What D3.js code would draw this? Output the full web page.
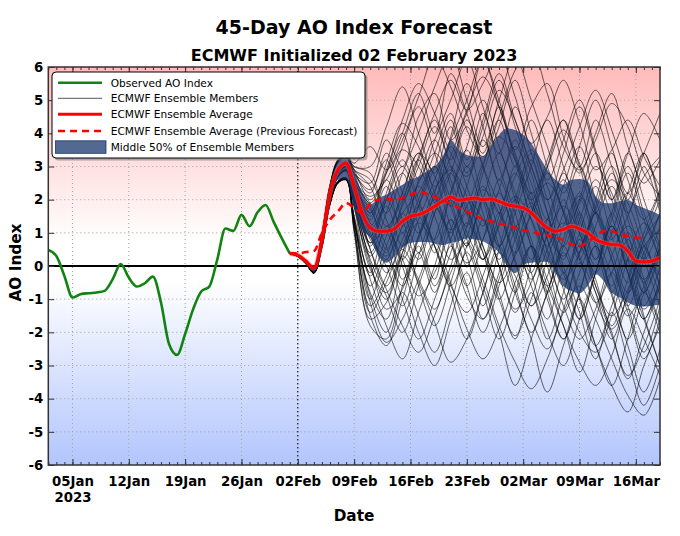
<!DOCTYPE html>
<html><head><meta charset="utf-8">
<script src="https://cdn.jsdelivr.net/npm/d3@7"></script>
<style>body{margin:0;background:#fff}svg{display:block;font-family:"DejaVu Sans",sans-serif}</style>
</head><body><svg id="c" width="680" height="536"></svg>
<script>
// ---------- data ----------
const observedStart = "2023-01-02";
const observedAO = [0.48,0.3,-0.3,-0.95,-0.85,-0.82,-0.8,-0.75,-0.4,0.06,-0.35,-0.62,-0.52,-0.32,-1.1,-2.35,-2.68,-2.05,-1.3,-0.77,-0.62,0.2,1.13,1.06,1.54,1.2,1.62,1.84,1.33,0.84,0.38];

const forecastStart = "2023-02-01";
const ensembleAverage = [0.38,0.33,0.15,-0.06,0.8,2.2,2.9,3.1,2.4,1.6,1.15,1.05,1.05,1.12,1.35,1.5,1.55,1.65,1.8,1.95,2.08,1.98,2.02,2.05,2.0,2.02,1.95,1.85,
  1.8,1.75,1.6,1.35,1.15,1.05,1.1,1.2,1.12,1.0,0.8,0.7,0.65,0.63,0.45,0.15,0.12,0.15,0.25];
const previousAverage = [0.38,0.38,0.42,0.45,1.0,1.4,1.65,1.9,1.75,1.6,1.88,2.0,2.02,2.0,2.05,2.15,2.22,2.18,2.08,1.98,1.88,1.75,1.64,1.52,1.42,1.35,1.28,1.22,
  1.15,1.08,1.02,0.97,0.93,0.86,0.78,0.65,0.6,0.72,0.9,1.05,1.05,0.95,0.9,0.86,0.83];
const middle50Upper = [0.4,0.36,0.18,0.0,0.95,2.4,3.15,3.3,2.85,2.2,1.85,2.05,2.15,2.3,2.45,2.6,2.7,2.85,3.0,3.3,3.8,3.5,3.35,3.3,3.3,3.6,3.95,4.15,
  4.1,3.95,3.7,3.3,2.9,2.6,2.45,2.6,2.62,2.55,2.1,1.9,1.89,1.95,1.99,1.85,1.75,1.65,1.54];
const middle50Lower = [0.36,0.28,0.08,-0.18,0.65,1.95,2.6,2.65,1.75,1.1,0.85,0.3,0.1,0.28,0.55,0.7,0.72,0.72,0.68,0.63,0.7,0.75,0.83,0.8,0.75,0.6,0.4,0.0,
  -0.22,0.05,0.1,0.12,0.13,-0.2,-0.6,-0.75,-0.82,-0.6,-0.25,-0.45,-0.8,-0.95,-1.1,-1.2,-1.22,-1.2,-1.17];

const memberDates = ["2023-02-01","2023-02-02","2023-02-03","2023-02-04","2023-02-05","2023-02-06","2023-02-07","2023-02-08","2023-02-09",
  "2023-02-11","2023-02-13","2023-02-15","2023-02-17","2023-02-19","2023-02-21","2023-02-23","2023-02-25","2023-02-27",
  "2023-03-01","2023-03-03","2023-03-05","2023-03-07","2023-03-09","2023-03-11","2023-03-13","2023-03-15","2023-03-17","2023-03-19"];
const members = [
 [0.38,0.34,0.16,-0.05,0.95,2.4,3.15,3.3,2.8, 2.5,3.8,3.0,4.5,5.2,3.8,4.6,6.2,5.0,3.5,4.8,5.5,3.9,2.8,4.0,5.2,3.6,2.5,3.2],
 [0.38,0.32,0.12,-0.1,0.8,2.2,2.9,3.1,2.5, 1.8,0.5,1.9,3.2,2.1,3.9,5.5,4.2,2.6,3.8,2.2,1.0,2.4,3.6,2.0,0.8,2.2,3.4,1.8],
 [0.38,0.29,0.08,-0.2,0.6,1.9,2.55,2.6,1.3, -0.8,-1.6,0.2,1.5,0.4,2.2,3.5,2.0,0.6,1.8,3.2,1.6,-0.2,1.0,2.4,0.9,-0.5,0.8,2.0],
 [0.38,0.31,0.11,-0.12,0.75,2.1,2.8,3.0,2.1, 0.4,1.6,2.8,1.2,-0.4,1.4,0.3,-1.2,0.5,2.0,0.6,-1.0,-2.2,-0.8,0.6,-0.9,-2.4,-3.8,-2.5],
 [0.38,0.33,0.13,-0.08,0.85,2.25,2.95,3.15,2.5, 1.4,2.4,1.0,2.6,3.8,2.4,1.2,2.8,4.2,5.6,4.0,2.6,3.8,5.0,3.5,2.0,3.4,4.6,3.8],
 [0.38,0.28,0.06,-0.22,0.55,1.85,2.5,2.6,1.2, -1.2,-0.3,1.0,-0.6,-1.8,-0.5,1.2,2.4,1.0,-0.6,-2.0,-0.8,0.6,-0.9,-2.4,-1.2,0.2,-1.5,-3.0],
 [0.38,0.3,0.1,-0.15,0.7,2.0,2.7,2.9,2.0, 0.8,0.0,-1.2,0.3,1.8,3.0,1.6,0.2,1.5,2.8,1.4,0.0,-1.4,-0.2,1.2,2.4,1.0,-0.5,0.6],
 [0.38,0.35,0.17,-0.04,1.0,2.45,3.2,3.35,2.9, 2.0,2.8,4.0,5.2,4.0,5.8,4.6,3.4,4.8,3.2,2.0,3.2,4.4,3.0,1.6,2.8,1.4,0.2,1.2],
 [0.38,0.29,0.07,-0.21,0.58,1.88,2.52,2.62,1.5, -0.2,1.2,0.0,-1.5,-2.6,-1.2,0.4,-0.8,-2.2,-0.8,0.6,-0.6,-1.8,-3.2,-1.6,-0.2,-1.4,-2.8,-1.6],
 [0.38,0.31,0.11,-0.12,0.76,2.12,2.82,3.02,2.3, 1.0,0.2,1.6,2.2,3.4,4.6,3.2,4.6,3.0,1.6,0.2,1.4,2.6,1.2,-0.2,1.0,2.2,0.8,-0.6],
 [0.38,0.3,0.09,-0.16,0.68,1.98,2.68,2.85,1.9, 0.2,-0.9,-2.0,-0.6,0.8,2.0,0.8,-0.6,-2.0,-3.6,-2.2,-0.8,0.4,-1.0,-2.4,-3.6,-2.2,-0.8,-1.8],
 [0.38,0.32,0.12,-0.1,0.82,2.22,2.92,3.12,2.6, 1.6,2.6,1.4,0.2,1.6,2.8,4.2,3.0,1.8,0.4,1.6,2.8,1.6,0.4,1.6,0.4,-0.8,0.4,1.6],
 [0.38,0.34,0.15,-0.06,0.98,2.42,3.18,3.32,3.0, 2.8,1.6,2.8,4.0,5.4,6.4,5.0,3.6,5.0,6.3,5.0,3.6,2.2,3.6,5.0,3.6,2.2,3.4,4.6],
 [0.38,0.28,0.07,-0.2,0.62,1.92,2.56,2.66,1.1, -1.5,-2.4,-1.0,0.4,-0.8,0.6,-0.6,0.8,2.2,0.8,-0.6,-2.0,-3.0,-1.6,-0.2,1.2,-0.2,-1.6,-0.4],
 [0.38,0.31,0.1,-0.13,0.74,2.08,2.78,2.98,2.2, 0.6,2.0,3.2,2.0,0.8,2.2,3.6,5.0,3.6,2.2,0.8,-0.6,0.8,2.2,0.8,-0.6,0.8,-0.6,-2.0],
 [0.38,0.3,0.1,-0.14,0.72,2.02,2.72,2.92,2.2, 1.2,-0.2,0.8,2.0,3.0,1.8,3.0,1.6,0.2,1.6,3.0,4.4,3.0,1.6,0.2,1.6,0.2,-1.2,0.0],
 [0.38,0.34,0.16,-0.05,0.96,2.4,3.14,3.28,3.0, 3.0,4.2,5.4,4.0,2.8,4.2,2.8,4.2,5.6,4.2,2.8,1.4,2.8,1.4,0.0,1.4,2.8,1.4,0.2],
 [0.38,0.3,0.1,-0.15,0.7,2.0,2.7,2.88,1.8, 0.0,-1.0,0.4,1.8,0.6,-0.8,-2.2,-0.8,0.6,-0.8,-2.2,-3.8,-2.4,-1.0,-2.4,-3.6,-4.4,-3.0,-1.8],
 [0.38,0.32,0.12,-0.1,0.8,2.2,2.9,3.08,2.5, 1.9,1.0,2.2,3.4,2.2,1.0,2.4,3.8,2.4,1.0,-0.4,1.0,2.4,1.0,-0.4,-1.8,-0.4,1.0,2.2],
 [0.38,0.29,0.08,-0.19,0.6,1.9,2.55,2.65,1.5, -0.6,0.6,1.8,3.0,4.2,3.0,1.8,0.4,-1.0,0.4,1.8,0.4,-1.0,0.4,1.8,3.0,1.6,0.2,-1.2],
 [0.38,0.34,0.16,-0.05,0.94,2.38,3.12,3.26,2.8, 2.2,3.4,2.2,1.0,2.2,3.6,2.4,1.2,2.6,1.2,-0.2,1.2,-0.2,-1.6,-0.2,1.2,-0.2,-1.6,-3.0],
 [0.38,0.31,0.11,-0.12,0.76,2.1,2.8,3.0,2.2, 0.9,1.8,0.6,1.8,3.0,1.8,0.6,2.0,0.6,2.0,3.4,2.0,0.6,2.0,3.4,2.0,0.6,-0.8,0.4],
 [0.38,0.28,0.07,-0.21,0.58,1.88,2.52,2.6,1.3, -0.4,-1.8,-2.8,-1.4,0.0,1.4,0.0,1.4,0.0,-1.4,0.0,1.4,0.0,-1.4,-2.8,-1.4,-2.8,-4.2,-3.0],
 [0.38,0.32,0.12,-0.1,0.8,2.2,2.9,3.1,2.5, 1.5,2.8,4.0,2.6,3.8,5.0,6.2,4.8,3.4,4.8,3.4,2.0,3.4,4.8,3.4,2.0,3.4,2.0,0.6],
 [0.38,0.3,0.1,-0.15,0.7,2.0,2.7,2.9,1.9, 0.3,1.0,-0.4,0.8,2.0,0.8,-0.6,-2.0,-0.6,0.8,2.2,0.8,-0.6,0.8,-0.6,-2.0,-3.4,-2.0,-0.6],
 [0.38,0.34,0.15,-0.06,0.95,2.4,3.15,3.3,2.9, 2.6,1.4,0.2,1.4,2.6,3.8,5.0,6.2,4.8,3.4,2.0,0.6,2.0,0.6,2.0,3.4,2.0,3.4,2.0],
 [0.38,0.29,0.08,-0.2,0.6,1.9,2.55,2.65,1.4, -1.0,0.2,-1.0,-2.2,-1.0,0.4,1.6,0.2,1.6,0.2,-1.2,0.2,1.6,3.0,1.6,0.2,-1.2,0.2,1.6],
 [0.38,0.31,0.11,-0.12,0.75,2.1,2.8,3.0,2.3, 1.3,0.4,1.6,0.4,1.6,2.8,1.6,3.0,4.4,3.0,4.4,3.0,1.6,0.2,1.6,0.2,-1.2,-2.6,-1.2],
 [0.38,0.32,0.12,-0.1,0.8,2.2,2.9,3.1,2.4, 0.7,2.2,3.6,4.8,3.4,2.0,0.6,2.0,0.6,-0.8,0.6,-0.8,0.6,2.0,0.6,-0.8,0.6,-0.8,0.6],
 [0.38,0.3,0.1,-0.15,0.7,2.0,2.7,2.9,2.3, 1.7,0.6,-0.6,0.6,-0.6,0.8,2.0,0.6,-0.8,-2.2,-0.8,-2.2,-0.8,0.6,-0.8,-2.2,-0.8,0.6,-0.6],
 [0.38,0.34,0.16,-0.05,0.95,2.4,3.15,3.3,2.8, 2.3,3.2,2.0,3.2,4.4,3.2,4.4,3.0,1.6,3.0,1.6,3.0,4.4,3.0,4.4,3.0,1.6,3.0,1.6],
 [0.38,0.29,0.08,-0.2,0.6,1.9,2.55,2.65,1.4, -0.9,-2.0,-0.8,-2.0,-3.0,-1.6,-0.2,-1.6,-0.2,1.2,-0.2,-1.6,-0.2,-1.6,-0.2,1.2,-0.2,-1.6,-0.4],
 [0.38,0.31,0.11,-0.12,0.75,2.1,2.8,3.0,2.2, 1.1,2.0,3.0,1.8,0.6,-0.6,0.6,2.0,3.4,2.0,0.6,-0.8,-2.2,-0.8,0.6,-0.8,-2.2,-0.8,0.6],
 [0.38,0.32,0.12,-0.1,0.8,2.2,2.9,3.1,2.4, 0.5,-0.6,0.6,1.8,3.0,4.4,3.0,4.4,5.8,4.4,3.0,1.6,0.2,1.6,0.2,1.6,3.0,1.6,0.2],
 [0.38,0.28,0.06,-0.22,0.56,1.86,2.5,2.58,1.0, -1.8,-2.2,-0.6,0.9,1.8,0.7,-0.9,-1.6,-0.4,1.1,1.9,0.8,-0.7,-2.0,-2.6,-1.5,0.2,1.3,0.5],
 [0.38,0.35,0.17,-0.03,1.0,2.46,3.22,3.36,3.1, 3.6,2.9,3.8,5.1,6.3,5.4,4.1,3.3,4.5,5.9,6.5,5.2,3.6,2.9,3.8,4.9,4.2,2.8,2.1],
 [0.38,0.31,0.1,-0.13,0.74,2.1,2.78,2.96,2.0, 0.1,-1.3,-0.7,0.9,2.3,2.9,2.1,0.6,-0.5,0.3,1.6,2.5,1.7,0.2,-1.1,-1.9,-0.9,0.8,1.5],
 [0.38,0.33,0.13,-0.09,0.84,2.24,2.94,3.14,2.6, 2.1,2.6,3.5,3.0,1.9,1.1,1.8,3.1,3.9,3.2,1.8,0.5,-0.4,0.4,1.7,2.6,1.9,0.6,-0.3],
 [0.38,0.28,0.07,-0.21,0.57,1.87,2.5,2.6,1.1, -1.6,-1.1,0.3,-0.5,-1.7,-2.9,-2.2,-0.8,0.4,-0.3,-1.6,-2.5,-1.3,0.1,-0.8,-2.1,-3.3,-2.4,-1.0],
 [0.38,0.3,0.09,-0.16,0.69,1.99,2.69,2.87,1.8, -0.3,0.9,2.2,3.4,2.7,1.2,0.1,0.8,2.3,3.6,2.5,1.0,0.3,1.4,2.6,1.5,0.0,-1.3,-0.6],
 [0.38,0.34,0.15,-0.06,0.96,2.41,3.16,3.3,2.9, 2.4,1.2,2.0,3.3,4.6,5.6,4.7,5.5,6.4,5.1,3.7,4.5,5.6,4.3,2.9,3.5,4.4,3.3,2.4],
 [0.38,0.31,0.11,-0.11,0.77,2.12,2.82,3.02,2.2, 0.7,1.1,0.2,-0.9,-0.2,1.1,2.0,1.4,0.0,-1.3,-0.5,0.9,1.8,1.0,-0.6,-1.5,-0.7,0.6,1.1],
 [0.38,0.29,0.08,-0.2,0.6,1.9,2.54,2.62,1.4, -1.1,-2.3,-1.6,-0.4,0.7,-0.5,-1.9,-2.8,-1.9,-0.5,0.6,-0.4,-1.8,-2.9,-3.6,-2.7,-1.3,-2.2,-3.3],
 [0.38,0.32,0.12,-0.1,0.8,2.2,2.9,3.1,2.5, 1.6,3.1,4.3,3.6,2.4,3.3,4.7,5.7,4.8,3.3,2.2,3.0,4.1,3.1,1.7,0.6,1.5,2.7,3.3],
 [0.38,0.3,0.1,-0.15,0.7,2.0,2.7,2.9,1.9, -0.1,-0.8,0.4,1.3,0.6,-0.6,-1.4,-0.3,1.2,2.1,1.4,0.2,-1.2,-2.2,-1.3,0.3,1.2,0.4,-0.9],
 [0.38,0.31,0.11,-0.12,0.75,2.1,2.8,3.0,2.3, 1.2,2.0,1.2,2.5,3.4,2.6,1.0,0.2,1.3,2.7,3.5,2.4,1.1,1.9,3.0,2.2,0.7,-0.4,0.5],
 [0.38,0.28,0.07,-0.21,0.58,1.88,2.52,2.61,1.2, -1.4,-0.5,0.5,-0.4,-1.3,0.0,1.3,0.4,-1.0,-2.1,-1.0,0.5,1.3,0.3,-1.1,-0.2,1.0,-0.4,-1.7],
 [0.38,0.34,0.16,-0.05,0.95,2.4,3.15,3.3,2.7, 1.9,2.9,4.4,5.5,4.6,3.4,2.7,3.9,5.3,4.4,3.0,2.0,2.9,4.2,5.3,4.1,2.6,1.4,2.3],
 [0.38,0.32,0.12,-0.1,0.81,2.21,2.91,3.1,2.4, 0.9,0.3,1.2,2.4,1.5,0.2,0.9,2.3,1.6,0.1,-1.2,-0.3,1.2,2.1,1.0,-0.3,-1.5,-0.6,0.8],
 [0.38,0.3,0.1,-0.14,0.71,2.01,2.71,2.9,2.1, 0.5,-0.7,-1.8,-2.6,-1.5,-0.2,0.7,-0.4,-1.8,-2.9,-3.7,-2.8,-1.4,-0.6,-1.6,-2.8,-3.9,-4.5,-3.4]
];

const xTickDates = ["2023-01-05","2023-01-12","2023-01-19","2023-01-26","2023-02-02","2023-02-09","2023-02-16","2023-02-23","2023-03-02","2023-03-09","2023-03-16"];
const xTickLabels = ["05Jan","12Jan","19Jan","26Jan","02Feb","09Feb","16Feb","23Feb","02Mar","09Mar","16Mar"];
const yTicks = [-6,-5,-4,-3,-2,-1,0,1,2,3,4,5,6];
const initDate = "2023-02-02";
const xDomain = ["2023-01-02","2023-03-19"];
const legendLabels = ["Observed AO Index","ECMWF Ensemble Members","ECMWF Ensemble Average","ECMWF Ensemble Average (Previous Forecast)","Middle 50% of Ensemble Members"];

// ---------- setup ----------
const parse = d3.utcParse("%Y-%m-%d");
const seq = (start, n) => d3.range(n).map(i => d3.utcDay.offset(parse(start), i));
const L = 48.3, R = 660, T = 67, B = 465;
const svg = d3.select("#c");
const x = d3.scaleUtc().domain(xDomain.map(parse)).range([L, R]);
const y = d3.scaleLinear().domain([-6, 6]).range([B, T]);

const defs = svg.append("defs");
const grad = defs.append("linearGradient").attr("id","bg").attr("x1",0).attr("y1",0).attr("x2",0).attr("y2",1);
[[0,"#ffbaba"],[0.44,"#ffffff"],[0.54,"#ffffff"],[1,"#b2c5fd"]].forEach(([o,c]) =>
  grad.append("stop").attr("offset", o).attr("stop-color", c));
defs.append("clipPath").attr("id","clip").append("rect").attr("x",L).attr("y",T).attr("width",R-L).attr("height",B-T);

svg.append("rect").attr("x",L).attr("y",T).attr("width",R-L).attr("height",B-T).attr("fill","url(#bg)");

// grid
const grid = svg.append("g").attr("stroke","#a0a0a0").attr("stroke-width",1).attr("stroke-dasharray","1,3");
grid.selectAll(".gy").data(yTicks.filter(v => v > -6 && v < 6)).join("line")
  .attr("x1",L).attr("x2",R).attr("y1",d=>y(d)).attr("y2",d=>y(d));
grid.selectAll(".gx").data(xTickDates).join("line")
  .attr("x1",d=>x(parse(d))).attr("x2",d=>x(parse(d))).attr("y1",T).attr("y2",B);

const plot = svg.append("g").attr("clip-path","url(#clip)");

// members
const mDates = memberDates.map(parse);
const memberLine = d3.line().x((d,i)=>x(mDates[i])).y(d=>y(d)).curve(d3.curveCatmullRom.alpha(0.5));
plot.append("g").selectAll("path").data(members).join("path")
  .attr("d", memberLine).attr("fill","none").attr("stroke","#000").attr("stroke-width",0.9).attr("stroke-opacity",0.66);

// band
const fDates = seq(forecastStart, ensembleAverage.length);
const band = d3.area().x((d,i)=>x(fDates[i])).y0((d,i)=>y(middle50Lower[i])).y1(d=>y(d)).curve(d3.curveMonotoneX);
plot.append("path").attr("d", band(middle50Upper)).attr("fill","rgb(25,55,110)").attr("fill-opacity",0.75);

// zero line
plot.append("line").attr("x1",L).attr("x2",R).attr("y1",y(0)).attr("y2",y(0)).attr("stroke","#000").attr("stroke-width",2);
// init line
plot.append("line").attr("x1",x(parse(initDate))).attr("x2",x(parse(initDate))).attr("y1",T).attr("y2",B)
  .attr("stroke","#000").attr("stroke-width",1).attr("stroke-dasharray","1.5,2.5");

// observed
const oDates = seq(observedStart, observedAO.length);
plot.append("path").attr("d", d3.line().x((d,i)=>x(oDates[i])).y(d=>y(d)).curve(d3.curveMonotoneX)(observedAO))
  .attr("fill","none").attr("stroke","#118311").attr("stroke-width",2.6).attr("stroke-linejoin","round");

// average + previous
const fLine = d3.line().x((d,i)=>x(fDates[i])).y(d=>y(d)).curve(d3.curveMonotoneX);
plot.append("path").attr("d", fLine(ensembleAverage)).attr("fill","none").attr("stroke","#ff6060").attr("stroke-opacity",0.45).attr("stroke-width",5);
plot.append("path").attr("d", fLine(ensembleAverage)).attr("fill","none").attr("stroke","#f00").attr("stroke-width",3);
plot.append("path").attr("d", fLine(previousAverage)).attr("fill","none").attr("stroke","#f00").attr("stroke-width",2.6).attr("stroke-dasharray","7,5");

// frame
svg.append("rect").attr("x",L).attr("y",T).attr("width",R-L).attr("height",B-T).attr("fill","none").attr("stroke","#333").attr("stroke-width",1.5);

// axes
const tickFont = g => g.selectAll("text").attr("font-family","DejaVu Sans").attr("font-weight","bold").attr("font-size","13.3px").attr("fill","#000");
const majors = xTickDates.map(parse);
const xb = svg.append("g").attr("transform",`translate(0,${B})`)
  .call(d3.axisBottom(x).tickValues(majors).tickSize(-6).tickPadding(12).tickFormat((d,i)=>xTickLabels[i]));
xb.select(".domain").remove(); tickFont(xb);
xb.selectAll(".tick line").attr("stroke","#333");
const firstText = xb.select(".tick text");
firstText.text(null);
firstText.append("tspan").attr("x",0).text(xTickLabels[0]);
firstText.append("tspan").attr("x",0).attr("dy","1.15em").text("2023");

const dayTicks = d3.utcDay.range(parse(xDomain[0]), d3.utcDay.offset(parse(xDomain[1]),1));
const xMinB = svg.append("g").attr("transform",`translate(0,${B})`).call(d3.axisBottom(x).tickValues(dayTicks).tickSize(-3).tickFormat(""));
xMinB.select(".domain").remove(); xMinB.selectAll("line").attr("stroke","#333");
const xMinT = svg.append("g").attr("transform",`translate(0,${T})`).call(d3.axisTop(x).tickValues(dayTicks).tickSize(-3).tickFormat(""));
xMinT.select(".domain").remove(); xMinT.selectAll("line").attr("stroke","#333");
const xMajT = svg.append("g").attr("transform",`translate(0,${T})`).call(d3.axisTop(x).tickValues(majors).tickSize(-6).tickFormat(""));
xMajT.select(".domain").remove(); xMajT.selectAll("line").attr("stroke","#333");

const yl = svg.append("g").attr("transform",`translate(${L},0)`).call(d3.axisLeft(y).tickValues(yTicks).tickSize(-6).tickPadding(5).tickFormat(d3.format("d")));
yl.select(".domain").remove(); tickFont(yl); yl.selectAll("line").attr("stroke","#333");
yl.selectAll("text").text(d => d < 0 ? "-" + Math.abs(d) : d);
const yr = svg.append("g").attr("transform",`translate(${R},0)`).call(d3.axisRight(y).tickValues(yTicks).tickSize(-6).tickFormat(""));
yr.select(".domain").remove(); yr.selectAll("line").attr("stroke","#333");

// titles
const bold = s => s.attr("font-family","DejaVu Sans").attr("font-weight","bold").attr("fill","#000").attr("text-anchor","middle");
svg.append("text").attr("x",354).attr("y",34).attr("font-size","19px").text("45-Day AO Index Forecast").call(bold);
svg.append("text").attr("x",354).attr("y",61).attr("font-size","16px").text("ECMWF Initialized 02 February 2023").call(bold);
svg.append("text").attr("x",354).attr("y",521).attr("font-size","15.3px").text("Date").call(bold);
svg.append("text").attr("transform","translate(20.5,262.5) rotate(-90)").attr("font-size","15.3px").text("AO Index").call(bold);

// legend
const lg = svg.append("g").attr("transform","translate(52,72)");
lg.append("rect").attr("x",2.5).attr("y",2.5).attr("width",313).attr("height",86).attr("rx",4).attr("fill","#7a7a7a").attr("fill-opacity",0.6);
lg.append("rect").attr("x",0).attr("y",0).attr("width",313).attr("height",86).attr("rx",4).attr("fill","#fff").attr("stroke","#000").attr("stroke-width",1);
const rowY = [10.7, 26.3, 42.3, 59, 75.3];
const samples = [
  {stroke:"#118311", w:2.6, dash:null},
  {stroke:"#000", w:0.9, dash:null, op:0.75},
  {stroke:"#f00", w:3, dash:null},
  {stroke:"#f00", w:2.6, dash:"7,5"}
];
samples.forEach((s,i) => {
  lg.append("line").attr("x1",6).attr("x2",50).attr("y1",rowY[i]).attr("y2",rowY[i])
    .attr("stroke",s.stroke).attr("stroke-width",s.w).attr("stroke-dasharray",s.dash).attr("stroke-opacity",s.op||1);
});
lg.append("rect").attr("x",3.5).attr("y",rowY[4]-6.5).attr("width",50.5).attr("height",12.5)
  .attr("fill","rgb(25,55,110)").attr("fill-opacity",0.75).attr("stroke","rgb(25,55,110)").attr("stroke-width",0.8);
lg.selectAll(".lt").data(legendLabels).join("text")
  .attr("x",58.7).attr("y",(d,i)=>rowY[i]).attr("dy","0.36em")
  .attr("font-family","DejaVu Sans").attr("font-size","10.6px").attr("fill","#000").text(d=>d);
</script></body></html>
